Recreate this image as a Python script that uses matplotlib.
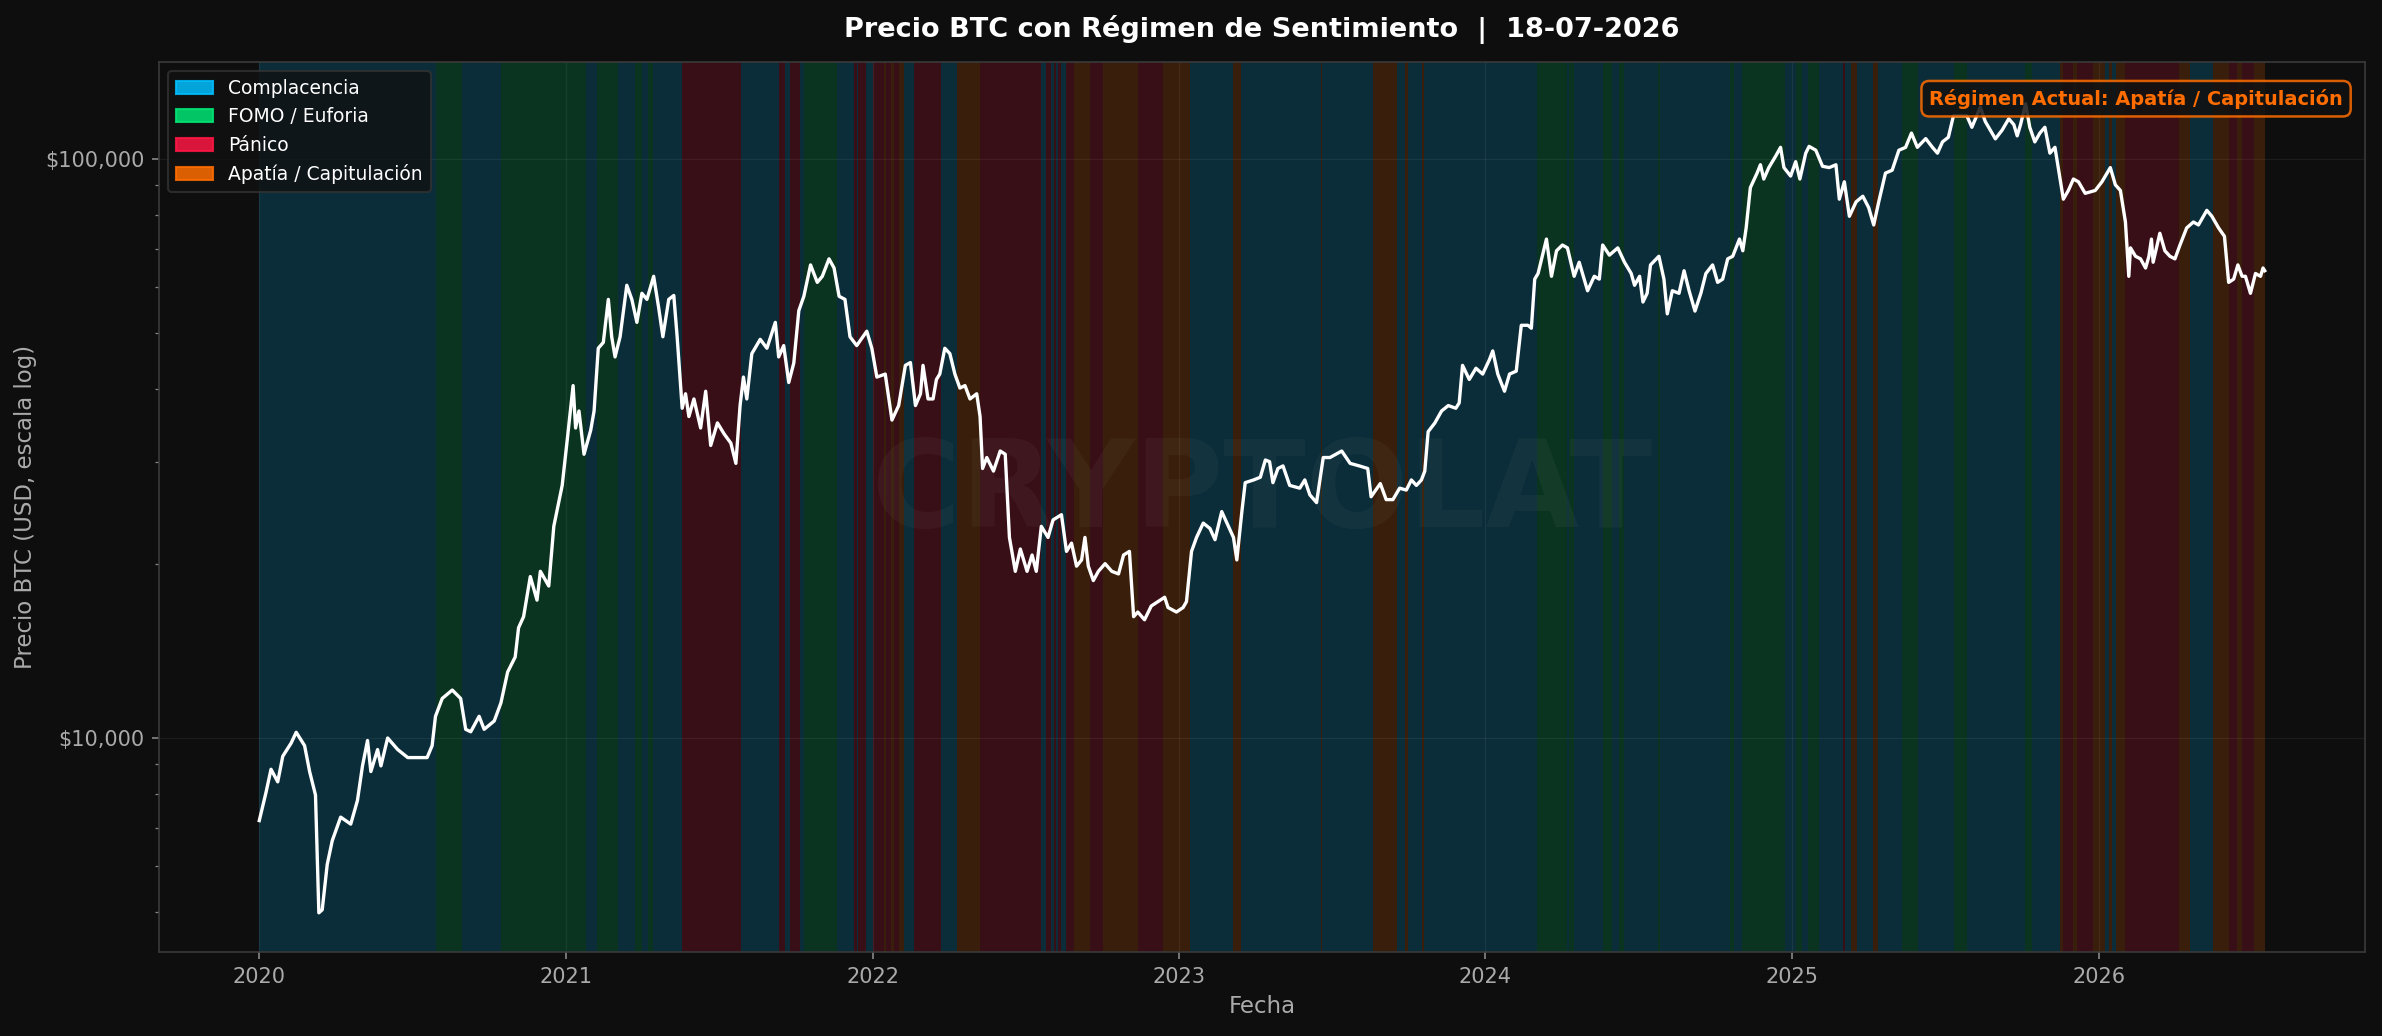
import matplotlib
matplotlib.use("Agg")
import matplotlib.pyplot as plt
import matplotlib.dates as mdates
import matplotlib.patches as mpatches
from matplotlib.ticker import FuncFormatter
import pandas as pd

TITLE = "Precio BTC con Régimen de Sentimiento  |  18-07-2026"
XLABEL = "Fecha"
YLABEL = "Precio BTC (USD, escala log)"
WATERMARK = "CRYPTOLAT"
CURRENT_LABEL = "Régimen Actual: Apatía / Capitulación"

regime_codes = ["C", "F", "P", "A"]
regime_labels = ["Complacencia", "FOMO / Euforia", "Pánico", "Apatía / Capitulación"]
regime_colors = ["#00BFFF", "#00E676", "#FF1744", "#FF6D00"]

price_dates = [
    "2020-01-01", "2020-01-09", "2020-01-15", "2020-01-23", "2020-01-29", "2020-02-08", "2020-02-14", "2020-02-24",
    "2020-03-01", "2020-03-08", "2020-03-12", "2020-03-16", "2020-03-22", "2020-03-28", "2020-04-07", "2020-04-19",
    "2020-04-27", "2020-05-03", "2020-05-09", "2020-05-13", "2020-05-21", "2020-05-25", "2020-06-02", "2020-06-14",
    "2020-06-26", "2020-07-07", "2020-07-19", "2020-07-25", "2020-07-29", "2020-08-06", "2020-08-18", "2020-08-28",
    "2020-09-03", "2020-09-09", "2020-09-19", "2020-09-25", "2020-10-07", "2020-10-15", "2020-10-23", "2020-11-01",
    "2020-11-05", "2020-11-11", "2020-11-19", "2020-11-27", "2020-12-01", "2020-12-11", "2020-12-17", "2020-12-27",
    "2021-01-02", "2021-01-09", "2021-01-12", "2021-01-16", "2021-01-22", "2021-01-30", "2021-02-03", "2021-02-08",
    "2021-02-14", "2021-02-20", "2021-02-24", "2021-02-28", "2021-03-06", "2021-03-14", "2021-03-20", "2021-03-26",
    "2021-04-01", "2021-04-07", "2021-04-15", "2021-04-21", "2021-04-26", "2021-05-03", "2021-05-09", "2021-05-13",
    "2021-05-19", "2021-05-23", "2021-05-27", "2021-06-02", "2021-06-10", "2021-06-16", "2021-06-22", "2021-06-30",
    "2021-07-08", "2021-07-16", "2021-07-22", "2021-07-27", "2021-07-31", "2021-08-04", "2021-08-10", "2021-08-20",
    "2021-08-28", "2021-09-07", "2021-09-11", "2021-09-17", "2021-09-23", "2021-09-29", "2021-10-05", "2021-10-11",
    "2021-10-19", "2021-10-27", "2021-11-02", "2021-11-10", "2021-11-16", "2021-11-22", "2021-11-29", "2021-12-05",
    "2021-12-13", "2021-12-25", "2021-12-31", "2022-01-06", "2022-01-16", "2022-01-24", "2022-02-01", "2022-02-09",
    "2022-02-15", "2022-02-21", "2022-02-27", "2022-03-02", "2022-03-08", "2022-03-14", "2022-03-18", "2022-03-22",
    "2022-03-28", "2022-04-03", "2022-04-09", "2022-04-15", "2022-04-21", "2022-04-27", "2022-05-05", "2022-05-09",
    "2022-05-12", "2022-05-17", "2022-05-25", "2022-06-02", "2022-06-08", "2022-06-13", "2022-06-20", "2022-06-26",
    "2022-07-04", "2022-07-10", "2022-07-15", "2022-07-21", "2022-07-29", "2022-08-04", "2022-08-14", "2022-08-20",
    "2022-08-26", "2022-09-01", "2022-09-07", "2022-09-11", "2022-09-15", "2022-09-21", "2022-09-27", "2022-10-05",
    "2022-10-13", "2022-10-21", "2022-10-27", "2022-11-03", "2022-11-08", "2022-11-13", "2022-11-21", "2022-11-29",
    "2022-12-15", "2022-12-19", "2022-12-29", "2023-01-06", "2023-01-10", "2023-01-16", "2023-01-22", "2023-01-30",
    "2023-02-07", "2023-02-13", "2023-02-21", "2023-03-01", "2023-03-07", "2023-03-11", "2023-03-17", "2023-03-21",
    "2023-03-31", "2023-04-08", "2023-04-14", "2023-04-19", "2023-04-23", "2023-04-29", "2023-05-05", "2023-05-13",
    "2023-05-25", "2023-05-31", "2023-06-06", "2023-06-14", "2023-06-22", "2023-06-30", "2023-07-14", "2023-07-24",
    "2023-08-04", "2023-08-14", "2023-08-18", "2023-08-29", "2023-09-05", "2023-09-13", "2023-09-21", "2023-09-29",
    "2023-10-05", "2023-10-11", "2023-10-17", "2023-10-21", "2023-10-25", "2023-11-02", "2023-11-10", "2023-11-18",
    "2023-11-27", "2023-12-01", "2023-12-05", "2023-12-13", "2023-12-21", "2023-12-29", "2024-01-06", "2024-01-10",
    "2024-01-16", "2024-01-24", "2024-01-30", "2024-02-07", "2024-02-13", "2024-02-21", "2024-02-25", "2024-02-29",
    "2024-03-04", "2024-03-14", "2024-03-20", "2024-03-26", "2024-04-02", "2024-04-08", "2024-04-16", "2024-04-22",
    "2024-05-02", "2024-05-10", "2024-05-16", "2024-05-20", "2024-05-28", "2024-06-07", "2024-06-15", "2024-06-23",
    "2024-06-27", "2024-07-03", "2024-07-07", "2024-07-12", "2024-07-16", "2024-07-26", "2024-08-01", "2024-08-05",
    "2024-08-11", "2024-08-19", "2024-08-25", "2024-08-31", "2024-09-07", "2024-09-14", "2024-09-20", "2024-09-28",
    "2024-10-04", "2024-10-10", "2024-10-16", "2024-10-22", "2024-10-30", "2024-11-03", "2024-11-07", "2024-11-12",
    "2024-11-20", "2024-11-24", "2024-11-28", "2024-12-04", "2024-12-12", "2024-12-18", "2024-12-22", "2024-12-30",
    "2025-01-05", "2025-01-10", "2025-01-17", "2025-01-21", "2025-01-29", "2025-02-06", "2025-02-14", "2025-02-22",
    "2025-02-26", "2025-03-04", "2025-03-10", "2025-03-18", "2025-03-26", "2025-04-02", "2025-04-08", "2025-04-14",
    "2025-04-22", "2025-04-30", "2025-05-08", "2025-05-16", "2025-05-23", "2025-05-30", "2025-06-09", "2025-06-17",
    "2025-06-23", "2025-06-29", "2025-07-06", "2025-07-12", "2025-07-22", "2025-07-28", "2025-08-03", "2025-08-13",
    "2025-08-19", "2025-08-25", "2025-08-31", "2025-09-08", "2025-09-16", "2025-09-22", "2025-09-26", "2025-09-30",
    "2025-10-06", "2025-10-11", "2025-10-17", "2025-10-23", "2025-10-29", "2025-11-04", "2025-11-10", "2025-11-15",
    "2025-11-20", "2025-11-26", "2025-12-02", "2025-12-08", "2025-12-16", "2025-12-28", "2026-01-05", "2026-01-09",
    "2026-01-15", "2026-01-21", "2026-01-27", "2026-02-02", "2026-02-06", "2026-02-08", "2026-02-14", "2026-02-20",
    "2026-02-26", "2026-03-02", "2026-03-05", "2026-03-07", "2026-03-15", "2026-03-21", "2026-03-27", "2026-04-02",
    "2026-04-08", "2026-04-16", "2026-04-24", "2026-04-30", "2026-05-10", "2026-05-16", "2026-05-24", "2026-05-31",
    "2026-06-05", "2026-06-11", "2026-06-16", "2026-06-21", "2026-06-25", "2026-07-01", "2026-07-07", "2026-07-13",
    "2026-07-16", "2026-07-18",
]
price_values = [
    7200, 8050, 8830, 8400, 9300, 9800, 10230, 9700,
    8750, 7970, 4990, 5050, 6050, 6650, 7300, 7100,
    7800, 8950, 9900, 8750, 9550, 8950, 10000, 9550,
    9250, 9250, 9250, 9700, 10900, 11700, 12100, 11700,
    10350, 10250, 10900, 10350, 10700, 11500, 13000, 13800,
    15500, 16200, 19000, 17300, 19400, 18300, 23200, 27300,
    32700, 40600, 34300, 36700, 30900, 34000, 36700, 47100,
    48200, 57200, 49300, 45500, 49300, 60500, 57200, 52200,
    58600, 57200, 62700, 55300, 49300, 57200, 58100, 49300,
    37100, 39300, 35900, 38500, 34300, 39700, 32000, 35000,
    33500, 32300, 29800, 37500, 42000, 38500, 46100, 48800,
    47100, 52200, 45500, 47600, 41100, 44400, 54700, 57900,
    65600, 61200, 62700, 67200, 64800, 57900, 57200, 49300,
    47600, 50400, 47100, 42000, 42500, 35400, 37500, 44000,
    44500, 37500, 39300, 44000, 38500, 38500, 41600, 42500,
    47100, 46100, 42500, 40200, 40600, 38500, 39300, 35900,
    29200, 30500, 28900, 31300, 30900, 22200, 19400, 21200,
    19400, 20700, 19400, 23200, 22200, 23800, 24300, 21000,
    21700, 19800, 20300, 22200, 19800, 18700, 19400, 20000,
    19400, 19200, 20700, 21000, 16200, 16500, 16000, 16900,
    17500, 16800, 16500, 16800, 17200, 21000, 22200, 23500,
    23000, 22000, 24600, 23200, 22200, 20300, 24600, 27600,
    27900, 28200, 30200, 30000, 27600, 29200, 29500, 27300,
    27000, 27900, 26300, 25500, 30500, 30500, 31300, 29800,
    29500, 29200, 26100, 27500, 25800, 25800, 27000, 26800,
    27900, 27300, 27900, 28900, 33800, 35000, 36700, 37500,
    37100, 37900, 44000, 41600, 43500, 42500, 45000, 46600,
    42500, 39700, 42500, 43000, 51600, 51600, 51000, 62000,
    63400, 72700, 62700, 69400, 71000, 70200, 62700, 66300,
    59200, 62700, 62000, 71000, 68200, 70200, 66300, 63400,
    60500, 62700, 56600, 58600, 65600, 67900, 62000, 54000,
    59200, 58600, 64100, 59200, 54600, 58600, 63400, 65600,
    61200, 62000, 67200, 67900, 72700, 69400, 76000, 89200,
    94500, 97700, 92300, 96600, 101000, 104700, 96600, 93400,
    98900, 92300, 102300, 105100, 103500, 97100, 96600, 97700,
    85200, 91300, 79600, 84300, 86200, 82400, 76900, 84300,
    94500, 95600, 103500, 104700, 110800, 104700, 108400, 104700,
    102300, 107000, 109000, 118700, 118700, 118700, 113400, 122800,
    116000, 112100, 108300, 112100, 117300, 114600, 109600, 114600,
    124500, 113400, 107000, 110800, 113400, 102300, 104700, 94500,
    85200, 88200, 92300, 91300, 87200, 88200, 91300, 93400,
    96600, 90200, 88200, 77800, 62700, 70200, 67900, 67200,
    64800, 67900, 72700, 66300, 74400, 69400, 67900, 67200,
    71000, 76000, 77800, 76900, 81500, 79600, 76000, 73500,
    61200, 62000, 65600, 62700, 62700, 58600, 63400, 62700,
    64800, 64100,
]

band_starts = [
    "2020-01-01", "2020-07-30", "2020-08-30", "2020-10-15", "2021-01-24", "2021-02-07", "2021-03-04", "2021-03-24",
    "2021-04-01", "2021-04-08", "2021-04-14", "2021-05-19", "2021-07-28", "2021-09-11", "2021-09-18", "2021-09-25",
    "2021-10-06", "2021-10-11", "2021-11-19", "2021-12-10", "2021-12-13", "2021-12-15", "2021-12-24", "2022-01-02",
    "2022-01-14", "2022-01-17", "2022-01-23", "2022-01-27", "2022-02-01", "2022-02-07", "2022-02-19", "2022-03-23",
    "2022-04-12", "2022-05-09", "2022-07-21", "2022-07-27", "2022-08-02", "2022-08-05", "2022-08-08", "2022-08-10",
    "2022-08-14", "2022-08-20", "2022-08-29", "2022-09-17", "2022-10-02", "2022-11-13", "2022-12-13", "2023-01-14",
    "2023-03-06", "2023-03-16", "2023-06-19", "2023-06-21", "2023-08-20", "2023-09-18", "2023-09-28", "2023-10-01",
    "2023-10-18", "2023-10-20", "2024-03-03", "2024-04-08", "2024-04-10", "2024-04-16", "2024-05-20", "2024-05-31",
    "2024-06-08", "2024-06-14", "2024-07-25", "2024-07-27", "2024-10-19", "2024-10-24", "2024-11-02", "2024-12-23",
    "2025-01-05", "2025-01-12", "2025-01-20", "2025-02-02", "2025-03-03", "2025-03-05", "2025-03-12", "2025-03-19",
    "2025-04-07", "2025-04-13", "2025-05-12", "2025-05-31", "2025-07-13", "2025-07-28", "2025-10-05", "2025-10-14",
    "2025-11-16", "2025-11-20", "2025-12-01", "2025-12-06", "2025-12-25", "2026-01-09", "2026-01-13", "2026-01-17",
    "2026-01-22", "2026-02-01", "2026-04-07", "2026-04-20", "2026-05-17", "2026-06-05", "2026-06-15", "2026-06-21",
    "2026-07-05",
]
band_regimes = [
    "C", "F", "C", "F", "C", "F", "C", "F",
    "C", "F", "C", "P", "C", "P", "C", "P",
    "C", "F", "C", "P", "C", "P", "C", "P",
    "A", "P", "A", "P", "A", "C", "P", "C",
    "A", "P", "C", "P", "C", "P", "C", "P",
    "C", "P", "A", "P", "A", "P", "A", "C",
    "A", "C", "A", "C", "A", "C", "A", "C",
    "A", "C", "F", "C", "F", "C", "F", "C",
    "F", "C", "F", "C", "F", "C", "F", "C",
    "F", "C", "F", "C", "P", "C", "A", "C",
    "A", "C", "F", "C", "F", "C", "F", "C",
    "A", "P", "A", "P", "A", "C", "A", "C",
    "A", "P", "A", "C", "A", "P", "A", "P",
    "A",
]
band_end = "2026-07-18"

BG = "#0e0e0e"
TXT = "#aaaaaa"

dates = pd.to_datetime(price_dates)
starts = pd.to_datetime(band_starts)
ends = list(starts[1:]) + [pd.Timestamp(band_end)]
color_of = dict(zip(regime_codes, regime_colors))

fig = plt.figure(figsize=(2382 / 150, 1036 / 150), dpi=150, facecolor=BG)
ax = fig.add_axes([159 / 2382, 1 - 952 / 1036, (2365 - 159) / 2382, (952 - 62) / 1036])
ax.set_facecolor(BG)

ax.plot(dates, price_values, color="white", lw=1.6, zorder=4)
for s, e, r in zip(starts, ends, band_regimes):
    ax.axvspan(s, e, color=color_of[r], alpha=0.18, lw=0, zorder=0)

ax.set_yscale("log")
ax.set_ylim(4270, 147000)
ax.yaxis.set_major_formatter(FuncFormatter(lambda v, p: f"${v:,.0f}"))
ax.xaxis.set_major_locator(mdates.YearLocator())
ax.xaxis.set_major_formatter(mdates.DateFormatter("%Y"))

ax.grid(True, which="major", color="white", alpha=0.06, lw=0.6)
ax.tick_params(colors="#888888", labelcolor=TXT, labelsize=10)
ax.tick_params(which="minor", colors="#888888")
for sp in ax.spines.values():
    sp.set_color("#3a3a3a")

ax.set_xlabel(XLABEL, color=TXT, fontsize=11)
ax.set_ylabel(YLABEL, color=TXT, fontsize=11)
ax.set_title(TITLE, color="white", fontsize=13, fontweight="bold", pad=12)

ax.text(0.5, 0.515, WATERMARK, transform=ax.transAxes, ha="center", va="center",
        fontsize=58, fontweight="bold", color="white", alpha=0.035, zorder=2)

handles = [mpatches.Patch(facecolor=c, edgecolor=c, alpha=0.85, label=l)
           for l, c in zip(regime_labels, regime_colors)]
leg = ax.legend(handles=handles, loc="upper left", fontsize=9, facecolor="#111111",
                edgecolor="#333333", framealpha=0.8, labelcolor="white")
leg.set_zorder(6)

ax.text(0.99, 0.97, CURRENT_LABEL, transform=ax.transAxes, ha="right", va="top",
        fontsize=9.3, fontweight="bold", color=color_of["A"], zorder=6,
        bbox=dict(boxstyle="round,pad=0.4", facecolor="#111111", edgecolor=color_of["A"], alpha=0.85, lw=1.2))

fig.savefig("out.png", dpi=150, facecolor=BG)
